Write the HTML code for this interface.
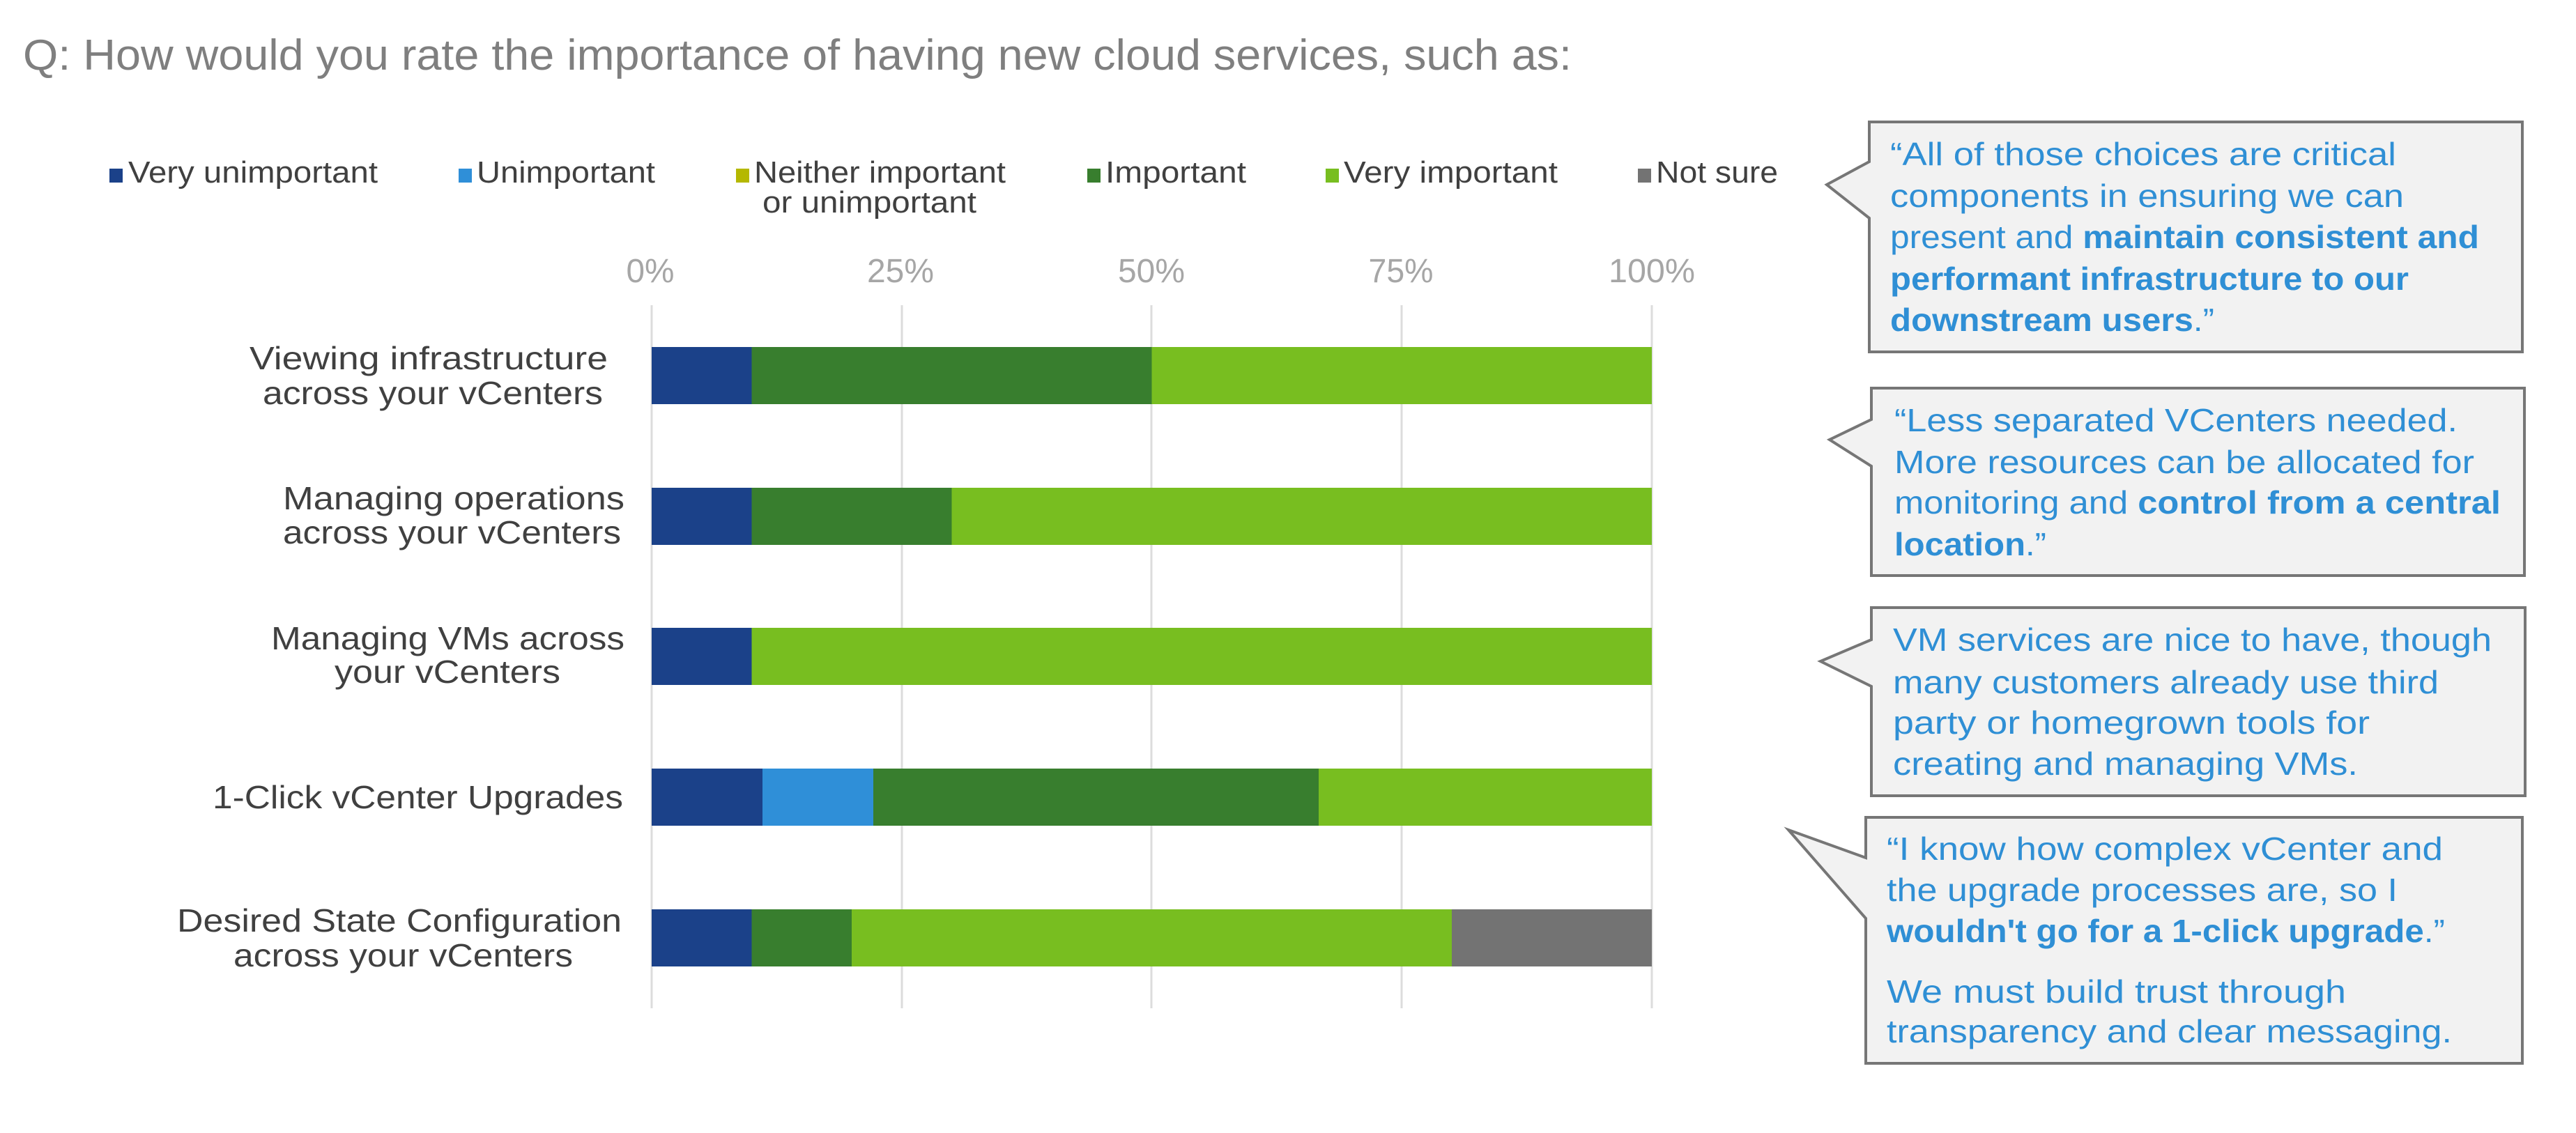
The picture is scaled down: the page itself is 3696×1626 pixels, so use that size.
<!DOCTYPE html>
<html>
<head>
<meta charset="utf-8">
<style>
  html, body { margin:0; padding:0; background:#ffffff; }
  body { width:3696px; height:1626px; overflow:hidden; }
  svg { display:block; }
  text { font-family: "Liberation Sans", "DejaVu Sans", sans-serif; }
  .lbl { font-size:46px; fill:#404040; }
  .leg { font-size:44px; fill:#404040; }
  .tick { font-size:48px; fill:#a6a6a6; }
  .q { font-size:46px; fill:#2f8fd5; }
  .b { font-weight:bold; }
</style>
</head>
<body>
<svg width="3696" height="1626" viewBox="0 0 3696 1626" xmlns="http://www.w3.org/2000/svg">
  <rect x="0" y="0" width="3696" height="1626" fill="#ffffff"/>

  <!-- Title -->
  <text x="33" y="100" font-size="62" fill="#7f7f7f" textLength="2222" lengthAdjust="spacingAndGlyphs">Q: How would you rate the importance of having new cloud services, such as:</text>

  <!-- Legend -->
  <rect x="157" y="242" width="19" height="20" fill="#1b4189"/>
  <text class="leg" x="184" y="262" textLength="358" lengthAdjust="spacingAndGlyphs">Very unimportant</text>
  <rect x="658" y="242" width="19" height="20" fill="#2f8fd8"/>
  <text class="leg" x="684" y="262" textLength="256" lengthAdjust="spacingAndGlyphs">Unimportant</text>
  <rect x="1056" y="242" width="19" height="20" fill="#b5b800"/>
  <text class="leg" x="1082" y="262" textLength="361" lengthAdjust="spacingAndGlyphs">Neither important</text>
  <text class="leg" x="1094" y="305" textLength="307" lengthAdjust="spacingAndGlyphs">or unimportant</text>
  <rect x="1560" y="242" width="19" height="20" fill="#387e2e"/>
  <text class="leg" x="1586" y="262" textLength="202" lengthAdjust="spacingAndGlyphs">Important</text>
  <rect x="1902" y="242" width="19" height="20" fill="#78be20"/>
  <text class="leg" x="1928" y="262" textLength="307" lengthAdjust="spacingAndGlyphs">Very important</text>
  <rect x="2350" y="242" width="19" height="20" fill="#737373"/>
  <text class="leg" x="2376" y="262" textLength="175" lengthAdjust="spacingAndGlyphs">Not sure</text>

  <!-- Tick labels -->
  <text class="tick" x="933" y="405" text-anchor="middle" textLength="69" lengthAdjust="spacingAndGlyphs">0%</text>
  <text class="tick" x="1292" y="405" text-anchor="middle" textLength="96" lengthAdjust="spacingAndGlyphs">25%</text>
  <text class="tick" x="1652" y="405" text-anchor="middle" textLength="96" lengthAdjust="spacingAndGlyphs">50%</text>
  <text class="tick" x="2010" y="405" text-anchor="middle" textLength="93" lengthAdjust="spacingAndGlyphs">75%</text>
  <text class="tick" x="2370" y="405" text-anchor="middle" textLength="124" lengthAdjust="spacingAndGlyphs">100%</text>

  <!-- Gridlines -->
  <g stroke="#dcdcdc" stroke-width="3">
    <line x1="935" y1="438" x2="935" y2="1447"/>
    <line x1="1294" y1="438" x2="1294" y2="1447"/>
    <line x1="1652" y1="438" x2="1652" y2="1447"/>
    <line x1="2011" y1="438" x2="2011" y2="1447"/>
    <line x1="2370" y1="438" x2="2370" y2="1447"/>
  </g>

  <!-- Bars: 0%=935, 100%=2370, width 1435 -->
  <!-- Row 1 -->
  <rect x="935" y="498" width="143.5" height="82" fill="#1b4189"/>
  <rect x="1078.5" y="498" width="574" height="82" fill="#387e2e"/>
  <rect x="1652.5" y="498" width="717.5" height="82" fill="#78be20"/>
  <!-- Row 2 -->
  <rect x="935" y="700" width="143.5" height="82" fill="#1b4189"/>
  <rect x="1078.5" y="700" width="287" height="82" fill="#387e2e"/>
  <rect x="1365.5" y="700" width="1004.5" height="82" fill="#78be20"/>
  <!-- Row 3 -->
  <rect x="935" y="901" width="143.5" height="82" fill="#1b4189"/>
  <rect x="1078.5" y="901" width="1291.5" height="82" fill="#78be20"/>
  <!-- Row 4 -->
  <rect x="935" y="1103" width="159" height="82" fill="#1b4189"/>
  <rect x="1094" y="1103" width="159" height="82" fill="#2f8fd8"/>
  <rect x="1253" y="1103" width="639" height="82" fill="#387e2e"/>
  <rect x="1892" y="1103" width="478" height="82" fill="#78be20"/>
  <!-- Row 5 -->
  <rect x="935" y="1305" width="143.5" height="82" fill="#1b4189"/>
  <rect x="1078.5" y="1305" width="143.5" height="82" fill="#387e2e"/>
  <rect x="1222" y="1305" width="861" height="82" fill="#78be20"/>
  <rect x="2083" y="1305" width="287" height="82" fill="#737373"/>

  <!-- Category labels -->
  <text class="lbl" x="358" y="530" textLength="514" lengthAdjust="spacingAndGlyphs">Viewing infrastructure</text>
  <text class="lbl" x="377" y="580" textLength="488" lengthAdjust="spacingAndGlyphs">across your vCenters</text>

  <text class="lbl" x="406" y="731" textLength="490" lengthAdjust="spacingAndGlyphs">Managing operations</text>
  <text class="lbl" x="406" y="780" textLength="485" lengthAdjust="spacingAndGlyphs">across your vCenters</text>

  <text class="lbl" x="389" y="932" textLength="507" lengthAdjust="spacingAndGlyphs">Managing VMs across</text>
  <text class="lbl" x="480" y="980" textLength="324" lengthAdjust="spacingAndGlyphs">your vCenters</text>

  <text class="lbl" x="305" y="1160" textLength="589" lengthAdjust="spacingAndGlyphs">1-Click vCenter Upgrades</text>

  <text class="lbl" x="254" y="1337" textLength="638" lengthAdjust="spacingAndGlyphs">Desired State Configuration</text>
  <text class="lbl" x="335" y="1387" textLength="487" lengthAdjust="spacingAndGlyphs">across your vCenters</text>

  <!-- Callouts -->
  <g fill="#f2f2f2" stroke="#767676" stroke-width="4" stroke-linejoin="miter">
    <path d="M2682 175 L3619 175 L3619 505 L2682 505 L2682 313 L2621 265 L2682 232 Z"/>
    <path d="M2685 557 L3622 557 L3622 826 L2685 826 L2685 669 L2625 631 L2685 602 Z"/>
    <path d="M2685 872 L3623 872 L3623 1142 L2685 1142 L2685 985 L2612 949 L2685 918 Z"/>
    <path d="M2677 1173 L3619 1173 L3619 1526 L2677 1526 L2677 1318 L2566 1191 L2677 1231 Z"/>
  </g>

  <!-- Callout 1 text -->
  <text class="q" x="2712" y="237" textLength="726" lengthAdjust="spacingAndGlyphs">“All of those choices are critical</text>
  <text class="q" x="2712" y="297" textLength="737" lengthAdjust="spacingAndGlyphs">components in ensuring we can</text>
  <text class="q" x="2712" y="356" textLength="845" lengthAdjust="spacingAndGlyphs">present and <tspan class="b">maintain consistent and</tspan></text>
  <text class="q b" x="2712" y="416" textLength="744" lengthAdjust="spacingAndGlyphs">performant infrastructure to our</text>
  <text class="q" x="2712" y="475" textLength="465" lengthAdjust="spacingAndGlyphs"><tspan class="b">downstream users</tspan>.”</text>

  <!-- Callout 2 text -->
  <text class="q" x="2718" y="619" textLength="808" lengthAdjust="spacingAndGlyphs">“Less separated VCenters needed.</text>
  <text class="q" x="2718" y="679" textLength="832" lengthAdjust="spacingAndGlyphs">More resources can be allocated for</text>
  <text class="q" x="2718" y="737" textLength="870" lengthAdjust="spacingAndGlyphs">monitoring and <tspan class="b">control from a central</tspan></text>
  <text class="q" x="2718" y="797" textLength="218" lengthAdjust="spacingAndGlyphs"><tspan class="b">location</tspan>.”</text>

  <!-- Callout 3 text -->
  <text class="q" x="2716" y="934" textLength="859" lengthAdjust="spacingAndGlyphs">VM services are nice to have, though</text>
  <text class="q" x="2716" y="995" textLength="783" lengthAdjust="spacingAndGlyphs">many customers already use third</text>
  <text class="q" x="2716" y="1053" textLength="684" lengthAdjust="spacingAndGlyphs">party or homegrown tools for</text>
  <text class="q" x="2716" y="1112" textLength="667" lengthAdjust="spacingAndGlyphs">creating and managing VMs.</text>

  <!-- Callout 4 text -->
  <text class="q" x="2707" y="1234" textLength="798" lengthAdjust="spacingAndGlyphs">“I know how complex vCenter and</text>
  <text class="q" x="2707" y="1293" textLength="733" lengthAdjust="spacingAndGlyphs">the upgrade processes are, so I</text>
  <text class="q" x="2707" y="1352" textLength="801" lengthAdjust="spacingAndGlyphs"><tspan class="b">wouldn't go for a 1-click upgrade</tspan>.”</text>
  <text class="q" x="2707" y="1439" textLength="659" lengthAdjust="spacingAndGlyphs">We must build trust through</text>
  <text class="q" x="2707" y="1496" textLength="811" lengthAdjust="spacingAndGlyphs">transparency and clear messaging.</text>
</svg>
</body>
</html>
